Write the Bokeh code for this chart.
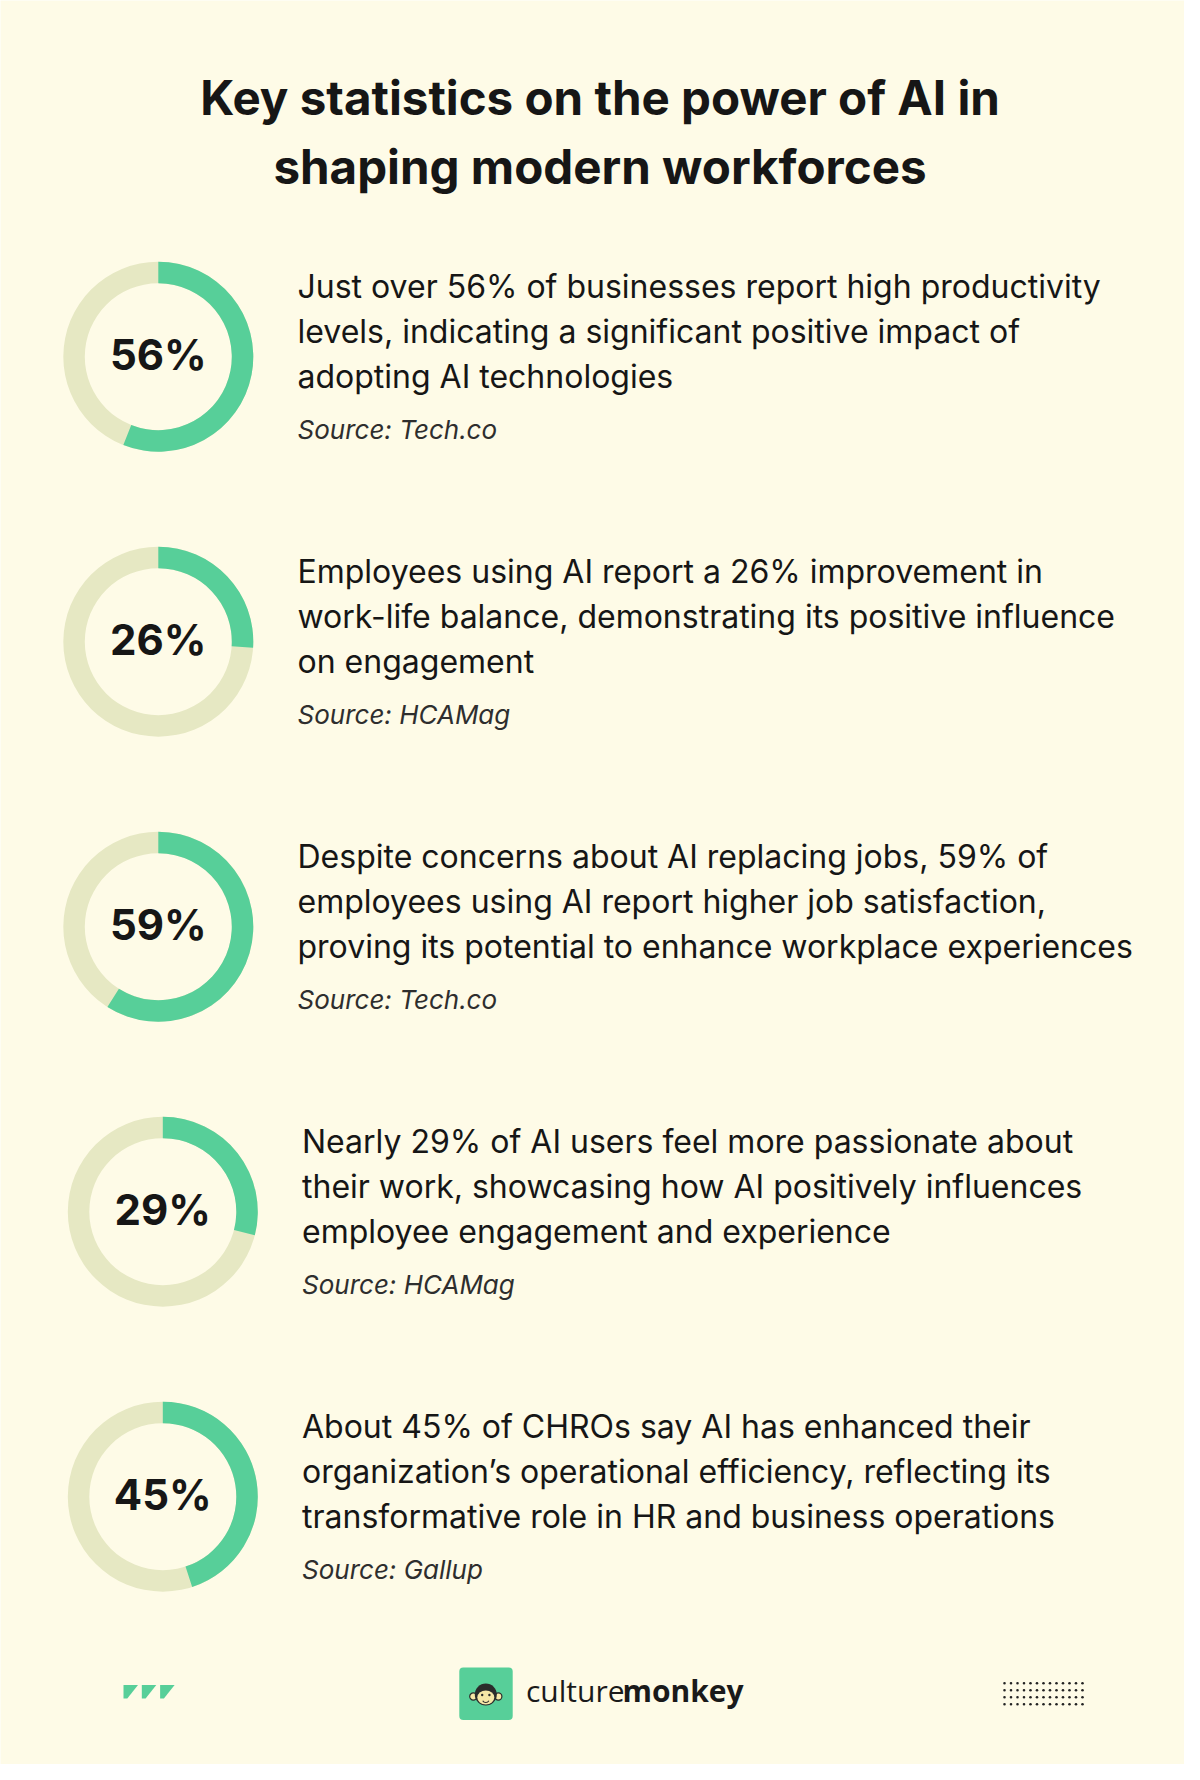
import numpy as np
from bokeh.plotting import figure
from bokeh.models import Range1d, BoxAnnotation
from bokeh.core.properties import value
from bokeh.embed import file_html
from bokeh.resources import INLINE

# ---------------- data ----------------
title_lines = ["Key statistics on the power of AI in", "shaping modern workforces"]
percents = [56, 26, 59, 29, 45]
pct_labels = ["56%", "26%", "59%", "29%", "45%"]
descriptions = [
    ["Just over 56% of businesses report high productivity",
     "levels, indicating a significant positive impact of",
     "adopting AI technologies"],
    ["Employees using AI report a 26% improvement in",
     "work-life balance, demonstrating its positive influence",
     "on engagement"],
    ["Despite concerns about AI replacing jobs, 59% of",
     "employees using AI report higher job satisfaction,",
     "proving its potential to enhance workplace experiences"],
    ["Nearly 29% of AI users feel more passionate about",
     "their work, showcasing how AI positively influences",
     "employee engagement and experience"],
    ["About 45% of CHROs say AI has enhanced their",
     "organization\u2019s operational efficiency, reflecting its",
     "transformative role in HR and business operations"],
]
sources = ["Source: Tech.co", "Source: HCAMag", "Source: Tech.co", "Source: HCAMag", "Source: Gallup"]
brand_parts = ["culture", "monkey"]

# ---------------- style / layout ----------------
BG = "#FEFBE7"
GREEN = "#57CF99"
TAN = "#E6E8C3"
INK = "#161616"
FONT = "Inter"

W, H = 1184, 1764
OFF = 0.5
p = figure(width=W, height=H, x_range=Range1d(OFF, OFF + W), y_range=Range1d(-(OFF + H), -OFF),
           output_backend="svg", toolbar_location=None, x_axis_type=None, y_axis_type=None,
           min_border=0, background_fill_color=BG, border_fill_color=BG, outline_line_color=None)
p.grid.visible = False


def ty(page_y, fs):
    # baseline position (page px, downward) -> data y, with text-metric correction
    return -(page_y - 0.41 * fs)


# title
TFS = 47.5
p.text(x=[600, 600], y=[ty(116.5, TFS), ty(186, TFS)], text=title_lines, text_font=value(FONT),
       text_font_style="bold", text_font_size=f"{TFS}px", text_color=INK,
       text_align="center", text_baseline="alphabetic")

# rows
n = len(percents)
row_cy = [356.7 + 285 * i for i in range(n)]
row_dx = [0, 0, 0, 4.5, 4.5]
cx = [158.3 + d for d in row_dx]
cy = [-c for c in row_cy]
R_OUT, R_IN = 95, 73.5

p.annulus(x=cx, y=cy, inner_radius=R_IN, outer_radius=R_OUT, fill_color=TAN, line_color=None)
frac = np.array(percents) / 100.0
p.annular_wedge(x=cx, y=cy, inner_radius=R_IN, outer_radius=R_OUT,
                start_angle=list(np.pi / 2 - 2 * np.pi * frac), end_angle=[np.pi / 2] * n,
                direction="anticlock", fill_color=GREEN, line_color=None)
PFS = 42
p.text(x=cx, y=[ty(c + 15.5, PFS) for c in row_cy], text=pct_labels, text_font=value(FONT),
       text_font_style="bold", text_font_size=f"{PFS}px", text_color=INK,
       text_align="center", text_baseline="alphabetic")

BFS = 32
line_off = [-57.0, -12.0, 33.0]
tx, tyy, tt = [], [], []
for i in range(n):
    for j, line in enumerate(descriptions[i]):
        tx.append(297.5 + row_dx[i])
        tyy.append(ty(row_cy[i] + line_off[j], BFS))
        tt.append(line)
p.text(x=tx, y=tyy, text=tt, text_font=value(FONT), text_font_size=f"{BFS}px",
       text_color=INK, text_align="left", text_baseline="alphabetic")
SFS = 26
p.text(x=[297.5 + d for d in row_dx], y=[ty(c + 83.5, SFS) for c in row_cy], text=sources,
       text_font=value(FONT), text_font_style="italic", text_font_size=f"{SFS}px",
       text_color="#2E2E2E", text_align="left", text_baseline="alphabetic")

# footer: chevrons
for k in range(3):
    x0 = 123.5 + 18.3 * k
    p.patch(x=[x0, x0 + 14.5, x0 + 3.8, x0], y=[-1685, -1685, -1698.5, -1698.5],
            fill_color=GREEN, line_color=None)

# footer: logo square
p.add_layout(BoxAnnotation(left=459.3, right=512.7, top=-1667.5, bottom=-1720, level="underlay",
                           fill_color=GREEN, fill_alpha=1.0, line_color=None, border_radius=4))
mx, my = 485.8, -1694.5
FACE = "#F6E7A6"
DARK = "#2B2B2B"
p.circle(x=[mx - 12.5, mx + 12.5], y=[my - 2, my - 2], radius=3.6, fill_color=FACE,
         line_color=DARK, line_width=1.2)
p.circle(x=[mx], y=[my], radius=11, fill_color=DARK, line_color=None)
p.ellipse(x=[mx], y=[my - 3], width=17, height=14, fill_color=FACE, line_color=None)
p.circle(x=[mx - 3.6, mx + 3.6], y=[my - 0.5, my - 0.5], radius=1.2, fill_color=DARK, line_color=None)
p.arc(x=[mx], y=[my - 4.5], radius=3.5, start_angle=np.pi + 0.5, end_angle=2 * np.pi - 0.5,
      line_color=DARK, line_width=1.2)

LFS = 30
p.text(x=[526], y=[ty(1703, LFS)], text=[brand_parts[0]], text_font=value("Open Sans"),
       text_font_size=f"{LFS}px", text_color="#1A1A1A", text_align="left", text_baseline="alphabetic")
p.text(x=[622.5], y=[ty(1703, LFS)], text=[brand_parts[1]], text_font=value("Open Sans"),
       text_font_style="bold", text_font_size=f"{LFS}px", text_color="#1A1A1A",
       text_align="left", text_baseline="alphabetic")

# footer: dot grid
gx, gy = np.meshgrid(np.arange(13), np.arange(4))
p.circle(x=list(1004.5 + 6.5 * gx.ravel()), y=list(-(1683.3 + 7 * gy.ravel())), radius=1.3,
         fill_color="#222222", line_color=None)

open("out.html", "w").write(file_html(p, INLINE))
